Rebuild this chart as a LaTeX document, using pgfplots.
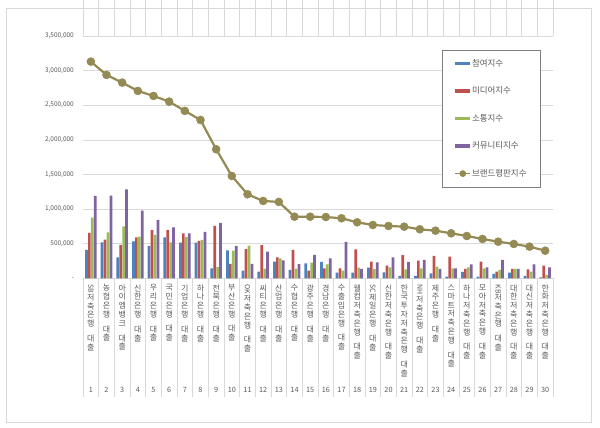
\documentclass[border=0pt]{standalone}
\usepackage{fontspec}
\setmainfont{Noto Sans CJK KR}
\usepackage{graphicx}
\usepackage{pgfplots}
\usepackage{pgfplotstable}
\pgfplotsset{compat=1.18}
\definecolor{blueC}{HTML}{4F81BD}
\definecolor{redC}{HTML}{C0504D}
\definecolor{greenC}{HTML}{9BBB59}
\definecolor{purpleC}{HTML}{8064A2}
\definecolor{lineC}{HTML}{948A54}
\definecolor{gridC}{HTML}{D9D9D9}
\definecolor{txtC}{HTML}{595959}
\definecolor{legC}{HTML}{7F7F7F}

\makeatletter
\protected\def\vc#1{\@tfor\x:=#1\do{\hbox to 12bp{\hss\x\hss}}}
\makeatother
\protected\def\rot#1{\rotatebox[origin=c]{-90}{\fontsize{7}{7}\selectfont #1}}
\protected\def\lab#1#2#3{\vbox to 108bp{\baselineskip=8.8bp \vc{#1}\vskip6bp\vc{#2}\vfill\hbox to 12bp{\hss\fontsize{7.3}{8}\selectfont #3\hss}}}

\pgfplotsset{
  barleg/.style={legend image code/.code={\fill[##1] (0bp,-1.7bp) rectangle (15bp,1.7bp);}},
  lineleg/.style={legend image code/.code={\draw[lineC, line width=1.4bp] (0bp,0bp)--(15bp,0bp); \fill[lineC] (7.5bp,0bp) circle (2.2bp);}}
}

\pgfplotstableread{
x  p      m      s      c       b
1  409000 655000 877000 1190000 3130000
2  520000 558000 665000 1195000 2938000
3  303000 482000 750000 1286000 2827000
4  532000 592000 602000 978000  2707000
5  467000 698000 626000 843000  2634000
6  592000 698000 518000 737000  2552000
7  515000 648000 595000 650000  2418000
8  515000 542000 556000 672000  2287000
9  144000 756000 163000 800000  1864000
10 405000 209000 400000 467000  1478000
11 110000 421000 472000 207000  1214000
12 96000  481000 140000 385000  1117000
13 240000 303000 289000 260000  1103000
14 120000 409000 140000 205000  890000
15 217000 111000 226000 337000  890000
16 236000 144000 202000 289000  885000
17 82000  144000 111000 525000  867000
18 82000  419000 154000 135000  809000
19 154000 241000 135000 231000  770000
20 87000  183000 159000 303000  756000
21 34000  335000 130000 236000  746000
22 34000  255000 144000 265000  708000
23 72000  323000 169000 135000  688000
24 24000  313000 144000 144000  650000
25 91000  135000 159000 202000  611000
26 24000  241000 144000 159000  568000
27 63000  96000  120000 265000  529000
28 82000  135000 135000 135000  496000
29 34000  130000 96000  202000  457000
30 14000  183000 48000  159000  399000
}\datatable

\begin{document}
\begin{tikzpicture}
\path[use as bounding box] (0,0) rectangle (600bp,428bp);
\draw[gridC, line width=0.6bp] (6bp,6bp) rectangle (591bp,420bp);
\begin{axis}[
  at={(83bp,149.7bp)}, anchor=south west,
  scale only axis, width=470bp, height=242.3bp,
  xmin=0.5, xmax=30.5, ymin=0, ymax=3500000,
  scaled y ticks=false,
  axis line style={draw=none},
  ytick={0,500000,...,3500000},
  yticklabels={{-\hspace{3bp}},{500,000},{1,000,000},{1,500,000},{2,000,000},{2,500,000},{3,000,000},{3,500,000}},
  ymajorgrids, major grid style={gridC, line width=0.6bp},
  ytick style={draw=none}, xtick style={draw=none},
  yticklabel style={font=\fontsize{6.5}{7}\selectfont, text=txtC, anchor=east, inner sep=0pt, xshift=-9bp},
  xtick={1,...,30},
  xticklabels={\lab{{\rot{SB}}저축은행}{대출}{1},\lab{농협은행}{대출}{2},\lab{아이엠뱅크}{대출}{3},\lab{신한은행}{대출}{4},\lab{우리은행}{대출}{5},\lab{국민은행}{대출}{6},\lab{기업은행}{대출}{7},\lab{하나은행}{대출}{8},\lab{전북은행}{대출}{9},\lab{부산은행}{대출}{10},\lab{{\rot{OK}}저축은행}{대출}{11},\lab{씨티은행}{대출}{12},\lab{산업은행}{대출}{13},\lab{수협은행}{대출}{14},\lab{광주은행}{대출}{15},\lab{경남은행}{대출}{16},\lab{수출입은행}{대출}{17},\lab{웰컴저축은행}{대출}{18},\lab{{\rot{SC}}제일은행}{대출}{19},\lab{신한저축은행}{대출}{20},\lab{한국투자저축은행}{대출}{21},\lab{{\rot{NH}}저축은행}{대출}{22},\lab{제주은행}{대출}{23},\lab{스마트저축은행}{대출}{24},\lab{하나저축은행}{대출}{25},\lab{모아저축은행}{대출}{26},\lab{{\rot{KB}}저축은행}{대출}{27},\lab{대한저축은행}{대출}{28},\lab{대신저축은행}{대출}{29},\lab{한화저축은행}{대출}{30}},
  xticklabel style={anchor=north, inner sep=0pt, yshift=-6bp, text=txtC, font=\fontsize{8}{8.8}\selectfont},
  extra x ticks={0.5,1.5,...,30.5},
  extra x tick labels={},
  extra x tick style={xtick style={draw=gridC, line width=0.6bp}, major tick length=119bp, tick align=outside},
  legend style={at={(0.763,0.942)}, anchor=north west, draw=legC, line width=0.6bp,
    font=\fontsize{8.5}{9}\selectfont, text=txtC, inner xsep=12.7bp, inner ysep=8bp, row sep=17bp,
    cells={anchor=west}, nodes={inner sep=1bp, text height=7bp, text depth=1.5bp}},
  legend cell align=left,
]
\addplot[ybar, bar width=2.7bp, bar shift=-4.425bp, fill=blueC, draw=none, barleg] table[x=x,y=p]{\datatable};
\addplot[ybar, bar width=2.7bp, bar shift=-1.475bp, fill=redC, draw=none, barleg] table[x=x,y=m]{\datatable};
\addplot[ybar, bar width=2.7bp, bar shift=1.475bp, fill=greenC, draw=none, barleg] table[x=x,y=s]{\datatable};
\addplot[ybar, bar width=2.7bp, bar shift=4.425bp, fill=purpleC, draw=none, barleg] table[x=x,y=c]{\datatable};
\addplot[lineC, line width=2.2bp, mark=*, mark size=4bp, mark options={fill=lineC, draw=lineC, line width=0.5bp}, lineleg] table[x=x,y=b]{\datatable};
\legend{참여지수,미디어지수,소통지수,커뮤니티지수,브랜드평판지수}
\end{axis}
\end{tikzpicture}
\end{document}
